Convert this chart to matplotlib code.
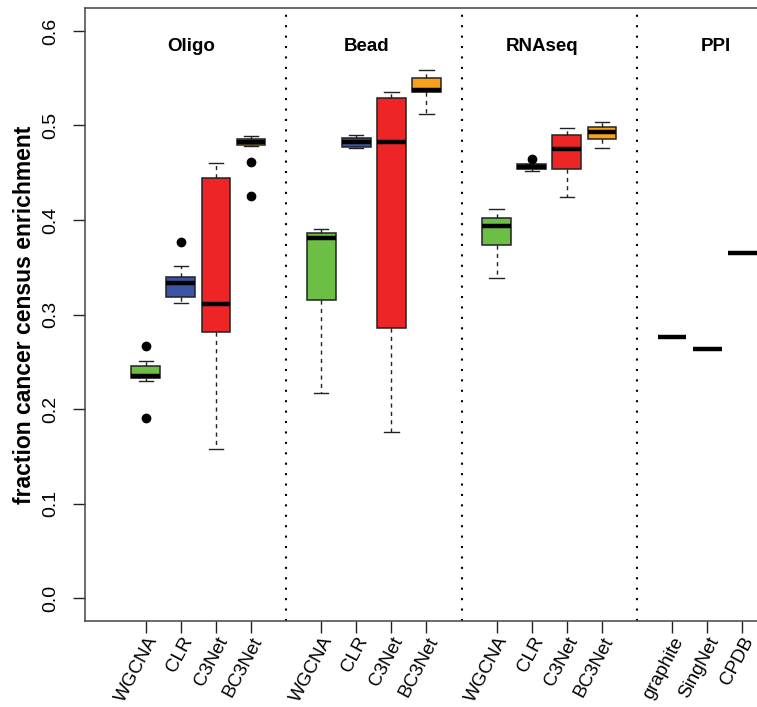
import matplotlib.pyplot as plt

plt.rcParams['font.family'] = ['Liberation Sans', 'DejaVu Sans']

# box positions and labels
positions = [1, 2, 3, 4, 6, 7, 8, 9, 11, 12, 13, 14, 16, 17, 18]
labels = ["WGCNA", "CLR", "C3Net", "BC3Net",
          "WGCNA", "CLR", "C3Net", "BC3Net",
          "WGCNA", "CLR", "C3Net", "BC3Net",
          "graphite", "SingNet", "CPDB"]

# box statistics
whislo = [0.230, 0.312, 0.158, 0.478,
          0.217, 0.476, 0.176, 0.512,
          0.339, 0.452, 0.424, 0.476,
          0.276, 0.264, 0.365]
q1 = [0.233, 0.319, 0.281, 0.479,
      0.315, 0.477, 0.286, 0.535,
      0.374, 0.454, 0.454, 0.486,
      0.276, 0.264, 0.365]
medians = [0.235, 0.333, 0.311, 0.482,
           0.381, 0.482, 0.482, 0.538,
           0.394, 0.456, 0.475, 0.493,
           0.276, 0.264, 0.365]
q3 = [0.245, 0.340, 0.444, 0.486,
      0.386, 0.487, 0.529, 0.550,
      0.402, 0.459, 0.490, 0.498,
      0.276, 0.264, 0.365]
whishi = [0.251, 0.351, 0.460, 0.489,
          0.390, 0.490, 0.535, 0.559,
          0.412, 0.459, 0.497, 0.504,
          0.276, 0.264, 0.365]
fliers = [[0.267, 0.191], [0.377], [], [0.461, 0.425],
          [], [], [], [],
          [], [0.465], [], [],
          [], [], []]

method_colors = {"WGCNA": "#6DBE45", "CLR": "#3A53A4", "C3Net": "#EE2526",
                 "BC3Net": "#F9A11B", "graphite": "white", "SingNet": "white",
                 "CPDB": "white"}

groups = ["Oligo", "Bead", "RNAseq", "PPI"]
group_label_x = [2.3, 7.3, 12.3, 17.25]
dividers = [5, 10, 15]

stats = []
for i in range(len(positions)):
    stats.append({"med": medians[i], "q1": q1[i], "q3": q3[i],
                  "whislo": whislo[i], "whishi": whishi[i],
                  "fliers": fliers[i]})

fig = plt.figure(figsize=(7.57, 7.07), dpi=100)
ax = fig.add_axes([85 / 757, 1 - 620.7 / 707, 718 / 757, 612.4 / 707])

bp = ax.bxp(stats, positions=positions, widths=0.82, patch_artist=True,
            capwidths=0.41,
            boxprops=dict(edgecolor="#222222", linewidth=1.1),
            medianprops=dict(color="black", linewidth=3.2, solid_capstyle="butt"),
            whiskerprops=dict(color="#222222", linewidth=1.0, linestyle=(0, (3, 3))),
            capprops=dict(color="#222222", linewidth=1.0),
            flierprops=dict(marker="o", markerfacecolor="black",
                            markeredgecolor="black", markersize=6))

for patch, lab in zip(bp["boxes"], labels):
    patch.set_facecolor(method_colors[lab])

for d in dividers:
    ax.axvline(d, color="black", linewidth=1.5, linestyle=(0, (1, 4)))

for g, gx in zip(groups, group_label_x):
    ax.text(gx, 0.584, g, ha="center", va="center", fontsize=13.5,
            fontweight="bold")

ax.set_xlim(-0.73, 19.73)
ax.set_ylim(-0.024, 0.624)

ax.set_xticks(positions)
ax.set_xticklabels(labels, rotation=62, ha="right", va="top",
                   rotation_mode="anchor", fontsize=13.5)
ax.set_yticks([0.0, 0.1, 0.2, 0.3, 0.4, 0.5, 0.6])
ax.set_yticklabels(["0.0", "0.1", "0.2", "0.3", "0.4", "0.5", "0.6"],
                   rotation=90, va="center", fontsize=14)
ax.tick_params(axis="both", length=8.5, width=1.0, color="#222222")
ax.tick_params(axis="y", pad=10)
ax.tick_params(axis="x", pad=1)

for s in ax.spines.values():
    s.set_color("#444444")
    s.set_linewidth(1.1)

fig.text(25 / 757, 1 - 315 / 707, "fraction cancer census enrichment",
         rotation=90, ha="center", va="center", fontsize=16.5,
         fontweight="bold")

fig.savefig("out.png", dpi=100)
